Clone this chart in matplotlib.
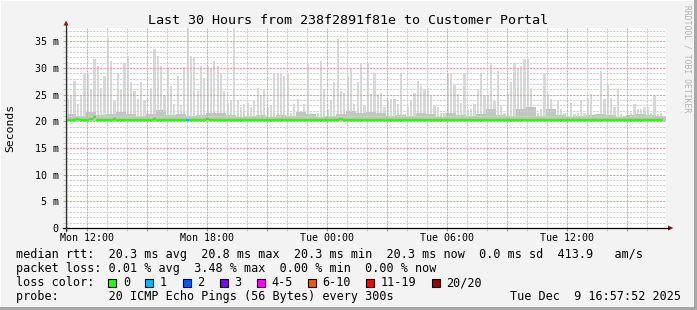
import matplotlib
matplotlib.use("Agg")
import matplotlib.pyplot as plt
from matplotlib.patches import Rectangle, Polygon
from matplotlib.lines import Line2D
from matplotlib.transforms import Affine2D
from matplotlib.ticker import FixedLocator
import numpy as np

plt.rcParams['font.family'] = ['DejaVu Sans Mono']

W, H = 697, 310

#--- Time axis (hours since Mon 00:00), graph ends Tue 16:57:52
start_hour = 10 + 57/60 + 52/3600
span_hours = 30
step_h = 10/60          # one smoke column = 10 min
mid_step_h = 30/60      # inner smoke read in 30 min blocks

x_label_hours = [12, 18, 24, 30, 36]
x_tick_labels = ["Mon 12:00", "Mon 18:00", "Tue 00:00", "Tue 06:00", "Tue 12:00"]
y_ticks = [0, 5, 10, 15, 20, 25, 30, 35]
y_tick_labels = ["0", "5 m", "10 m", "15 m", "20 m", "25 m", "30 m", "35 m"]

#--- Smoke: highest ping per 10 min column (ms)
smoke_max = [
    24.1, 24.8, 27.6, 23.2, 24.8, 29.1, 29.1, 26.0, 31.6, 30.4, 26.3, 28.5, 35.7, 31.3, 23.8,
    29.1, 26.0, 31.0, 32.3, 27.3, 25.7, 24.1, 27.3, 23.8, 21.6, 26.3, 33.5, 32.3, 30.4, 24.8,
    30.1, 26.6, 23.2, 28.5, 23.0, 30.1, 37.7, 32.3, 31.9, 25.7, 30.4, 28.2, 30.4, 29.8, 31.3,
    30.4, 28.8, 25.7, 23.5, 24.0, 37.6, 23.8, 22.6, 23.2, 23.5, 22.6, 23.8, 26.3, 24.8, 26.0,
    22.6, 22.9, 28.8, 28.8, 29.1, 28.5, 28.8, 21.6, 23.2, 24.1, 21.6, 23.2, 30.7, 21.6, 21.3,
    21.6, 31.3, 26.0, 22.3, 23.8, 27.3, 35.4, 25.7, 25.4, 28.5, 29.8, 23.2, 27.3, 30.7, 22.9,
    30.7, 25.1, 29.1, 25.1, 25.4, 22.6, 23.8, 24.1, 24.1, 23.2, 29.1, 21.3, 22.6, 23.8, 25.4,
    27.6, 26.6, 26.0, 26.3, 24.8, 22.9, 22.6, 21.6, 21.6, 28.8, 29.1, 26.9, 25.1, 23.5, 29.1,
    22.3, 22.3, 23.2, 26.0, 28.8, 24.8, 24.8, 30.7, 23.8, 29.4, 22.9, 21.6, 25.1, 27.3, 31.0,
    29.8, 30.4, 31.6, 31.6, 26.3, 21.3, 21.6, 22.3, 28.8, 25.1, 24.1, 21.9, 23.8, 22.3, 21.6,
    21.0, 23.5, 21.3, 21.6, 23.8, 21.6, 24.1, 25.1, 21.3, 21.3, 29.4, 24.1, 26.9, 24.4, 22.6,
    26.0, 21.3, 21.0, 21.0, 21.6, 23.2, 22.3, 22.3, 22.6, 22.6, 21.6, 24.8, 21.3, 21.6,
]

#--- Smoke: darker inner band top per 30 min block (ms)
smoke_mid = [
    21.3, 21.0, 21.8, 21.2, 21.4, 21.8, 21.3, 21.0, 21.3, 22.1,
    21.1, 21.3, 21.0, 21.2, 21.6, 21.5, 21.2, 20.9, 21.0, 21.2,
    20.9, 21.2, 21.0, 21.8, 21.4, 20.9, 21.0, 21.3, 21.9, 21.6,
    21.8, 21.5, 21.0, 21.2, 21.0, 21.6, 21.3, 20.9, 21.6, 21.2,
    21.0, 21.3, 22.3, 21.2, 21.0, 22.4, 22.6, 21.0, 22.4, 21.1,
    20.9, 21.0, 21.1, 21.3, 21.2, 20.9, 21.1, 21.3, 21.2, 21.0,
]
smoke_min = 20.0

#--- Median rtt per 10 min column (ms)
median_rtt = [
    20.3, 20.3, 20.3, 20.4, 20.3, 20.3, 20.3, 20.4, 20.8, 20.3, 20.3, 20.3, 20.3, 20.3, 20.4,
    20.3, 20.3, 20.3, 20.3, 20.3, 20.3, 20.3, 20.3, 20.3, 20.3, 20.3, 20.4, 20.3, 20.3, 20.3,
    20.3, 20.3, 20.3, 20.3, 20.3, 20.3, 20.3, 20.3, 20.3, 20.3, 20.3, 20.3, 20.4, 20.3, 20.3,
    20.3, 20.3, 20.3, 20.3, 20.3, 20.3, 20.3, 20.3, 20.3, 20.3, 20.3, 20.3, 20.3, 20.3, 20.3,
    20.3, 20.3, 20.3, 20.3, 20.3, 20.3, 20.3, 20.3, 20.3, 20.3, 20.3, 20.3, 20.3, 20.3, 20.3,
    20.3, 20.3, 20.3, 20.3, 20.3, 20.3, 20.3, 20.4, 20.3, 20.3, 20.3, 20.3, 20.3, 20.3, 20.3,
    20.3, 20.3, 20.3, 20.3, 20.3, 20.3, 20.3, 20.3, 20.3, 20.3, 20.3, 20.3, 20.3, 20.3, 20.3,
    20.3, 20.3, 20.3, 20.3, 20.3, 20.3, 20.3, 20.3, 20.3, 20.3, 20.3, 20.3, 20.3, 20.3, 20.3,
    20.3, 20.3, 20.3, 20.3, 20.3, 20.3, 20.3, 20.3, 20.3, 20.3, 20.3, 20.3, 20.3, 20.3, 20.3,
    20.3, 20.3, 20.3, 20.3, 20.3, 20.3, 20.3, 20.3, 20.3, 20.3, 20.3, 20.3, 20.3, 20.3, 20.3,
    20.3, 20.3, 20.3, 20.3, 20.3, 20.3, 20.3, 20.3, 20.3, 20.3, 20.3, 20.3, 20.3, 20.3, 20.3,
    20.3, 20.3, 20.3, 20.3, 20.3, 20.3, 20.3, 20.3, 20.3, 20.3, 20.3, 20.3, 20.3, 20.3,
]
#--- Columns with packet loss (index, lost pings of 20)
loss_index = [36]
loss_count = [1]

loss_labels = ["0", "1", "2", "3", "4-5", "6-10", "11-19", "20/20"]
loss_colors = ["#26ff00", "#00b8ff", "#0059ff", "#7e00ff", "#ff00ff", "#ff5500", "#ff0000", "#a00000"]
loss_upper = [0, 1, 2, 3, 5, 10, 19, 20]

legend_rows = [
    "median rtt:  20.3 ms avg  20.8 ms max  20.3 ms min  20.3 ms now  0.0 ms sd  413.9   am/s",
    "packet loss: 0.01 % avg  3.48 % max  0.00 % min  0.00 % now",
    "loss color:",
    "probe:       20 ICMP Echo Pings (56 Bytes) every 300s",
]
stamp = "Tue Dec  9 16:57:52 2025"
title = "Last 30 Hours from 238f2891f81e to Customer Portal"


def loss_color(n):
    for up, c in zip(loss_upper, loss_colors):
        if n <= up:
            return c
    return loss_colors[-1]


fig = plt.figure(figsize=(W/100, H/100), dpi=100, facecolor='#f3f3f3')
pix = Affine2D().scale(1/W, -1/H).translate(0, 1) + fig.transFigure

ax = fig.add_axes([66/W, 82/H, 600/W, 200/H])
ax.set_facecolor('white')
ax.set_xlim(start_hour, start_hour + span_hours)
ax.set_ylim(0, 37.5)
for s in ax.spines.values():
    s.set_visible(False)

#--- smoke (outer pings as thin spikes, inner band continuous)
n = len(smoke_max)
t = start_hour + np.arange(n) * step_h
ax.bar(t + step_h * 0.15, np.array(smoke_max) - smoke_min, bottom=smoke_min, width=step_h * 0.7,
       align='edge', color='#d9d9d9', linewidth=0, zorder=1)
t_mid = start_hour + np.arange(len(smoke_mid)) * mid_step_h
block_top = [min(m, max(smoke_max[3*i:3*i+3])) for i, m in enumerate(smoke_mid)]
ax.bar(t_mid, np.array(block_top) - smoke_min, bottom=smoke_min, width=mid_step_h, align='edge',
       color='#c4c4c4', linewidth=0, zorder=1)

#--- ticks and grid (grey every hour / 1 ms, red every 3 h / 5 ms)
x_major = np.arange(12, 41, 3)
x_minor = [h for h in range(11, 41) if h % 3]
y_minor = [v for v in range(1, 38) if v % 5]
ax.xaxis.set_major_locator(FixedLocator(x_major))
ax.xaxis.set_minor_locator(FixedLocator(x_minor))
ax.yaxis.set_major_locator(FixedLocator(y_ticks))
ax.yaxis.set_minor_locator(FixedLocator(y_minor))
ax.set_xticklabels([x_tick_labels[x_label_hours.index(h)] if h in x_label_hours else ""
                    for h in x_major])
ax.set_yticklabels(y_tick_labels)
ax.tick_params(which='major', length=2.2, width=0.72, color='#f08080', labelsize=7.2, pad=1.5)
ax.tick_params(which='minor', length=2.2, width=0.72, color='#c8c8c8')
ax.tick_params(axis='y', which='major', pad=3.0)

dash = (0, (2, 1))
for h in x_minor:
    ax.axvline(h, color='#c8c8c8', linestyle=dash, linewidth=0.72, zorder=2)
for v in y_minor:
    ax.axhline(v, color='#d0d0d0', linestyle=dash, linewidth=0.8, zorder=2)
for h in x_major:
    ax.axvline(h, color='#f49a9a', linestyle=dash, linewidth=0.72, zorder=2)
for v in y_ticks[1:]:
    ax.axhline(v, color='#f49a9a', linestyle=dash, linewidth=0.8, zorder=2)

#--- median line coloured by loss
cols = [loss_colors[0]] * n
for i, c in zip(loss_index, loss_count):
    cols[i] = loss_color(c)
ax.hlines(median_rtt, t, t + step_h, colors=cols, linewidth=1.7, zorder=3)

#--- axes with arrows
fig.add_artist(Line2D([63, 669], [228, 228], transform=pix, color='black', lw=0.9))
fig.add_artist(Line2D([66, 66], [231, 25], transform=pix, color='#303030', lw=0.9))
fig.add_artist(Polygon([[668, 225.5], [673.5, 228], [668, 230.5]], closed=True,
                       transform=pix, color='#8b1a1a', lw=0))
fig.add_artist(Polygon([[63.5, 25.5], [66, 20.5], [68.5, 25.5]], closed=True,
                       transform=pix, color='#8b1a1a', lw=0))

#--- texts
fig.text(348/W, 1 - 24/H, title, ha='center', va='baseline', fontsize=9.6, color='black')
fig.text(10/W, 1 - 128/H, "Seconds", rotation=90, ha='center', va='center', fontsize=8.2)
fig.text(686.5/W, 1 - 59/H, "RRDTOOL / TOBI OETIKER", rotation=270, ha='center', va='center',
         fontsize=5.8, color='#b4b4b4')

row_base = [258.3, 272.3, 286.5, 300.3]
for txt, yb in zip(legend_rows, row_base):
    fig.text(16/W, 1 - yb/H, txt, ha='left', va='baseline', fontsize=8.5)
fig.text(681/W, 1 - row_base[3]/H, stamp, ha='right', va='baseline', fontsize=8.5)

bx = 108.3
for lab, c in zip(loss_labels, loss_colors):
    fig.add_artist(Rectangle((bx, 286.5), 8, -8, transform=pix, facecolor=c,
                             edgecolor='black', lw=0.8))
    fig.text((bx + 14.6)/W, 1 - row_base[2]/H, lab, ha='left', va='baseline', fontsize=8.5)
    bx += 30 + 7.1 * len(lab)

#--- 3D frame of the canvas
fig.add_artist(Rectangle((0, 0), W, 1, transform=pix, color='white', lw=0))
fig.add_artist(Rectangle((0, 0), 1, H, transform=pix, color='white', lw=0))
fig.add_artist(Rectangle((694, 0), 3, H, transform=pix, color='#a8a8a8', lw=0))
fig.add_artist(Rectangle((0, 307), W, 3, transform=pix, color='#a8a8a8', lw=0))

fig.savefig("out.png", dpi=100, facecolor=fig.get_facecolor())
plt.close()
